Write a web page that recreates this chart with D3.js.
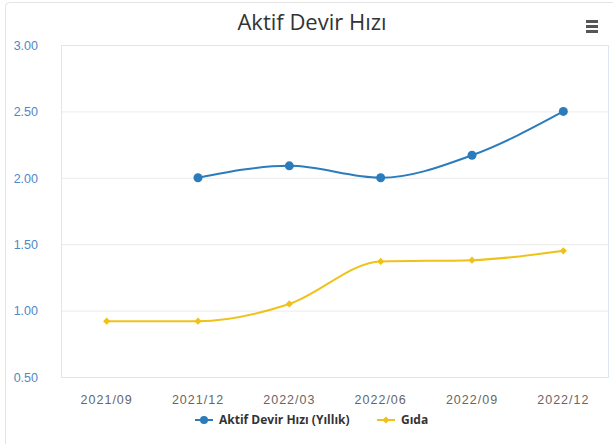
<!DOCTYPE html>
<meta charset="utf-8">
<style>
    body { margin: 0; background: #fff; font-family: "Open Sans", "DejaVu Sans", sans-serif; }
    .grid line { stroke: #ebebeb; }
    .axis path, .axis line { display: none; }
</style>
<svg width="613" height="444"></svg>
<script src="https://d3js.org/d3.v7.min.js"></script>
<script>

    var categories = ["2021/09", "2021/12", "2022/03", "2022/06", "2022/09", "2022/12"];
    var aktif = [null, 2.00, 2.09, 2.00, 2.17, 2.50];
    var gida = [0.92, 0.92, 1.05, 1.37, 1.38, 1.45];
    var yTicks = [0.5, 1.0, 1.5, 2.0, 2.5, 3.0];
    var seriesNames = ["Aktif Devir Hızı (Yıllık)", "Gıda"];
    var colors = ["#2b7cbc", "#efc21a"];

    var svg = d3.select("svg"),
        margin = {top: 45, right: 4, bottom: 67, left: 61},
        width = +svg.attr("width") - margin.left - margin.right,
        height = +svg.attr("height") - margin.top - margin.bottom;

    // card outline
    svg.append("rect")
        .attr("x", 5.5).attr("y", 2.5)
        .attr("width", 620).attr("height", 460)
        .attr("rx", 4)
        .attr("fill", "none")
        .attr("stroke", "#e4e4e4");

    svg.append("text")
        .attr("x", 312).attr("y", 30)
        .attr("text-anchor", "middle")
        .attr("fill", "#333")
        .style("font-size", "22px")
        .text("Aktif Devir Hızı");

    // menu icon
    [0, 5, 10].forEach(function(dy) {
        svg.append("rect")
            .attr("x", 586).attr("y", 20 + dy)
            .attr("width", 12).attr("height", 3)
            .attr("fill", "#555");
    });

    var x = d3.scaleBand().domain(categories).range([0, width]),
        y = d3.scaleLinear().domain([0.5, 3]).range([height, 0]);

    var g = svg.append("g")
        .attr("transform", "translate(" + margin.left + "," + margin.top + ")");

    g.append("g")
        .attr("class", "grid")
        .call(d3.axisLeft(y).tickValues(yTicks).tickSize(-width).tickFormat(""))
        .select(".domain").remove();

    g.append("rect")
        .attr("x", 0.5).attr("y", 0.5)
        .attr("width", width - 1).attr("height", height)
        .attr("fill", "none")
        .attr("stroke", "#dde5f1");

    g.append("g")
        .attr("class", "axis")
        .call(d3.axisLeft(y).tickValues(yTicks).tickFormat(d3.format(".2f")).tickPadding(17))
        .selectAll("text")
        .attr("fill", "#4f87c7")
        .attr("dy", "0.35em")
        .style("font-size", "12.5px");

    g.append("g")
        .attr("class", "axis")
        .attr("transform", "translate(0," + height + ")")
        .call(d3.axisBottom(x).tickPadding(12))
        .selectAll("text")
        .attr("fill", "#666")
        .style("font-size", "12.5px")
        .style("letter-spacing", "1px");

    var line = d3.line()
        .defined(function(d) { return d.v != null; })
        .x(function(d) { return x(d.c) + x.bandwidth() / 2; })
        .y(function(d) { return y(d.v); })
        .curve(d3.curveMonotoneX);

    var diamond = d3.symbol().type(d3.symbolSquare).size(26);

    [aktif, gida].forEach(function(vals, i) {
        var data = categories.map(function(c, j) { return {c: c, v: vals[j]}; });
        g.append("path")
            .datum(data)
            .attr("fill", "none")
            .attr("stroke", colors[i])
            .attr("stroke-width", 2)
            .attr("d", line);
        var pts = g.selectAll(".pt" + i)
            .data(data.filter(function(d) { return d.v != null; }))
            .enter();
        if (i == 0) {
            pts.append("circle")
                .attr("cx", function(d) { return x(d.c) + x.bandwidth() / 2; })
                .attr("cy", function(d) { return y(d.v); })
                .attr("r", 4.5)
                .attr("fill", colors[i]);
        } else {
            pts.append("path")
                .attr("transform", function(d) {
                    return "translate(" + (x(d.c) + x.bandwidth() / 2) + "," + y(d.v) + ") rotate(45)";
                })
                .attr("d", diamond)
                .attr("fill", colors[i]);
        }
    });

    // legend
    var legend = svg.append("g").attr("transform", "translate(0,420)");
    var items = legend.selectAll("g").data(seriesNames).enter().append("g")
        .attr("transform", function(d, i) { return "translate(" + (i == 0 ? 195 : 377) + ",0)"; });
    items.append("line")
        .attr("x1", 0).attr("x2", 18)
        .attr("stroke", function(d, i) { return colors[i]; })
        .attr("stroke-width", 2);
    items.each(function(d, i) {
        var it = d3.select(this);
        if (i == 0) {
            it.append("circle").attr("cx", 9).attr("r", 4).attr("fill", colors[i]);
        } else {
            it.append("path").attr("transform", "translate(9,0) rotate(45)")
                .attr("d", diamond)
                .attr("fill", colors[i]);
        }
    });
    items.append("text")
        .attr("x", 24).attr("dy", "0.35em")
        .attr("fill", "#333")
        .style("font-size", "12px")
        .style("font-weight", "bold")
        .text(function(d) { return d; });

</script>
